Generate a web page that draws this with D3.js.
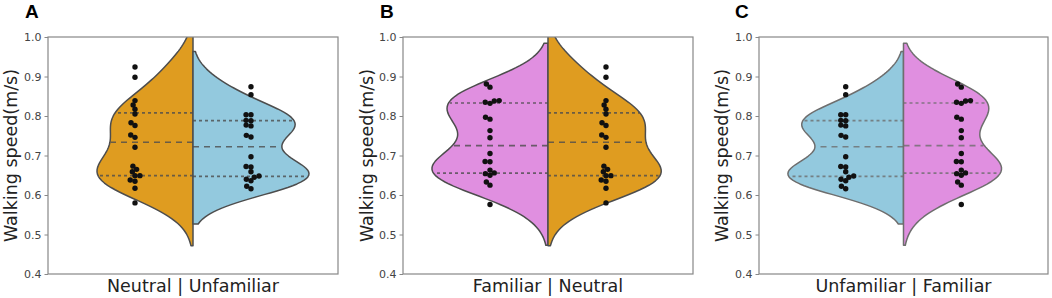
<!DOCTYPE html>
<html>
<head>
<meta charset="utf-8">
<script src="https://cdn.jsdelivr.net/npm/d3@7"></script>
<style>
  body { margin: 0; background: #fff; }
  text { font-family: "DejaVu Sans", sans-serif; }
</style>
</head>
<body>
<svg id="chart" width="1052" height="298"></svg>
<script>
// walking speed (m/s) per participant, one array per condition
const neutral = [0.924, 0.898, 0.839, 0.828, 0.817, 0.805, 0.783, 0.776, 0.752, 0.746,
                 0.721, 0.673, 0.665, 0.659, 0.649, 0.649, 0.638, 0.635, 0.617, 0.580];
const unfamiliar = [0.874, 0.854, 0.803, 0.803, 0.789, 0.788, 0.777, 0.775, 0.751, 0.747,
                    0.697, 0.672, 0.671, 0.659, 0.648, 0.645, 0.640, 0.636, 0.622, 0.616];
const familiar = [0.881, 0.873, 0.839, 0.838, 0.835, 0.832, 0.797, 0.792, 0.763, 0.745,
                  0.705, 0.685, 0.684, 0.663, 0.656, 0.654, 0.650, 0.633, 0.625, 0.576];

const panelLetters = ['A', 'B', 'C'];
const panelPairs = [['Neutral', 'Unfamiliar'], ['Familiar', 'Neutral'], ['Unfamiliar', 'Familiar']];
const yTicks = [0.4, 0.5, 0.6, 0.7, 0.8, 0.9, 1.0];
const yLabel = 'Walking speed(m/s)';

const groups = { Neutral: neutral, Unfamiliar: unfamiliar, Familiar: familiar };
const colors = { Neutral: '#DF9C20', Unfamiliar: '#93C9DE', Familiar: '#E08FE0' };

// pixel layout of the three axes
const layout = [
  { left: 48,  right: 338,  labelX: 17,  letterX: 25 },
  { left: 403, right: 693,  labelX: 373, letterX: 380 },
  { left: 759, right: 1048, labelX: 728, letterX: 735 }
];
const plotTop = 37, plotBottom = 274;

const svg = d3.select('#chart');

// gaussian kde, scott bandwidth, cut = 2 (like seaborn)
function kde(values) {
  const n = values.length;
  const bw = d3.deviation(values) * Math.pow(n, -0.2);
  const lo = d3.min(values) - 2 * bw, hi = d3.max(values) + 2 * bw;
  const support = d3.range(100).map(i => lo + (hi - lo) * i / 99);
  return support.map(s => [s, d3.mean(values, v => Math.exp(-0.5 * ((s - v) / bw) ** 2)) / (bw * Math.sqrt(2 * Math.PI))]);
}

// seaborn style beeswarm in pixel space
function beeswarm(pts, d) {
  const sorted = pts.slice().sort((a, b) => b.y - a.y);
  const mid = sorted[0].x;
  const swarm = [];
  sorted.forEach(p => {
    const neighbors = [];
    for (let j = swarm.length - 1; j >= 0; j--) {
      if (Math.abs(p.y - swarm[j].y) < d) neighbors.push(swarm[j]); else break;
    }
    let cands = [{ x: p.x, y: p.y }];
    let leftFirst = true;
    neighbors.forEach(q => {
      const dy = p.y - q.y;
      const dx = Math.sqrt(Math.max(d * d - dy * dy, 0)) * 1.05;
      const cl = { x: q.x - dx, y: p.y }, cr = { x: q.x + dx, y: p.y };
      cands.push(...(leftFirst ? [cl, cr] : [cr, cl]));
      leftFirst = !leftFirst;
    });
    cands = cands.map((c, i) => ({ c, i, off: Math.abs(c.x - mid) }))
      .sort((a, b) => a.off - b.off || a.i - b.i).map(o => o.c);
    const ok = cands.find(c => neighbors.every(q => (q.x - c.x) ** 2 + (q.y - c.y) ** 2 >= d * d - 1e-9));
    swarm.push(ok);
  });
  return swarm;
}

panelPairs.forEach((pair, pi) => {
  const L = layout[pi];
  const x = d3.scaleLinear().domain([-0.5, 0.5]).range([L.left, L.right]);
  const y = d3.scaleLinear().domain([0.4, 1.0]).range([plotBottom, plotTop]);
  const g = svg.append('g');

  const clipId = 'clip' + pi;
  g.append('clipPath').attr('id', clipId).append('rect')
    .attr('x', L.left).attr('y', plotTop).attr('width', L.right - L.left).attr('height', plotBottom - plotTop);

  const dens = pair.map(name => kde(groups[name]));
  const maxD = d3.max(dens, ds => d3.max(ds, d => d[1]));
  const lums = pair.map(name => d3.hsl(colors[name]).l);
  const lum = Math.round(d3.min(lums) * 0.6 * 255);
  const gray = d3.rgb(lum, lum, lum).formatHex();

  const plot = g.append('g').attr('clip-path', `url(#${clipId})`);

  pair.forEach((name, side) => {
    const sign = side === 0 ? -1 : 1;
    const ds = dens[side];
    const pts = ds.map(d => [x(sign * 0.4 * d[1] / maxD), y(d[0])]);
    pts.push([x(0), y(ds[ds.length - 1][0])], [x(0), y(ds[0][0])]);
    plot.append('path')
      .attr('d', d3.line()(pts) + 'Z')
      .attr('fill', colors[name])
      .attr('stroke', gray)
      .attr('stroke-width', 1.5)
      .attr('stroke-linejoin', 'round');

    // quartile lines
    const sorted = groups[name].slice().sort(d3.ascending);
    [[0.25, '3,3'], [0.5, '6,5'], [0.75, '3,3']].forEach(([p, dash]) => {
      const q = d3.quantile(sorted, p);
      const idx = d3.minIndex(ds, d => Math.abs(d[0] - q));
      const w = 0.4 * ds[idx][1] / maxD * 0.99;
      plot.append('line')
        .attr('x1', x(0)).attr('x2', x(sign * w))
        .attr('y1', y(q)).attr('y2', y(q))
        .attr('stroke', gray).attr('stroke-width', 1.6)
        .attr('stroke-dasharray', dash).attr('opacity', 0.8);
    });
  });

  // swarm points
  pair.forEach((name, side) => {
    const cx = x(side === 0 ? -0.2 : 0.2);
    const sw = beeswarm(groups[name].map(v => ({ x: cx, y: y(v) })), 4.7);
    plot.selectAll(null).data(sw).enter().append('circle')
      .attr('cx', d => d.x).attr('cy', d => d.y).attr('r', 2.7)
      .attr('fill', '#111');
  });

  // frame
  g.append('rect')
    .attr('x', L.left).attr('y', plotTop).attr('width', L.right - L.left).attr('height', plotBottom - plotTop)
    .attr('fill', 'none').attr('stroke', '#888').attr('stroke-width', 1.2);

  // y axis
  const ax = g.append('g').attr('transform', `translate(${L.left},0)`)
    .call(d3.axisLeft(y).tickValues(yTicks).tickFormat(d3.format('.1f')).tickSize(3.5).tickSizeOuter(0).tickPadding(3));
  ax.select('.domain').remove();
  ax.selectAll('.tick line').attr('stroke', '#888');
  ax.selectAll('.tick text').attr('fill', '#444').style('font-size', '11px')
    .style('font-family', '"DejaVu Sans", sans-serif');

  g.append('text')
    .attr('transform', `translate(${L.labelX},${(plotTop + plotBottom) / 2}) rotate(-90)`)
    .attr('text-anchor', 'middle')
    .style('font-size', '17.5px').attr('fill', '#222')
    .text(yLabel);

  g.append('text')
    .attr('x', (L.left + L.right) / 2).attr('y', 292)
    .attr('text-anchor', 'middle')
    .style('font-size', '17.5px').attr('fill', '#222')
    .text(pair.join(' | '));

  g.append('text')
    .attr('x', L.letterX).attr('y', 18)
    .style('font-family', '"Liberation Sans", Arial, sans-serif')
    .style('font-weight', 'bold').style('font-size', '19px').attr('fill', '#000')
    .text(panelLetters[pi]);
});
</script>
</body>
</html>
